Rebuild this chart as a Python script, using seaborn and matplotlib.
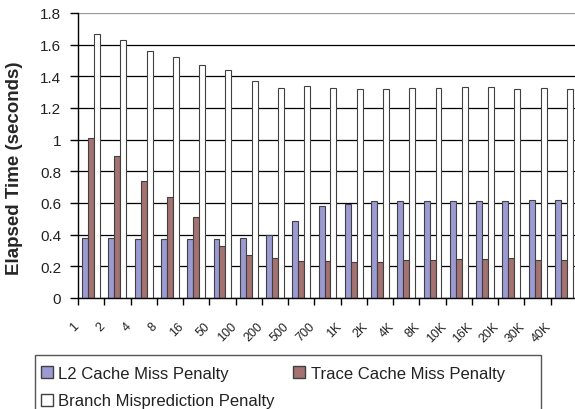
import matplotlib.pyplot as plt
import matplotlib.transforms as mtransforms
from matplotlib.patches import Patch, Rectangle
import seaborn as sns
import numpy as np
import pandas as pd

# data
sizes = ['1', '2', '4', '8', '16', '50', '100', '200', '500', '700',
         '1K', '2K', '4K', '8K', '10K', '16K', '20K', '30K', '40K']
l2_penalty = [0.38, 0.38, 0.375, 0.375, 0.375, 0.375, 0.38, 0.40, 0.485, 0.584,
              0.594, 0.615, 0.615, 0.615, 0.615, 0.615, 0.615, 0.621, 0.621]
trace_penalty = [1.01, 0.90, 0.74, 0.64, 0.513, 0.33, 0.273, 0.25, 0.233, 0.234,
                 0.227, 0.227, 0.24, 0.24, 0.246, 0.244, 0.25, 0.24, 0.24]
branch_penalty = [1.67, 1.63, 1.56, 1.52, 1.474, 1.438, 1.369, 1.324, 1.341, 1.328,
                  1.318, 1.318, 1.328, 1.328, 1.333, 1.333, 1.322, 1.328, 1.322]
series_names = ['L2 Cache Miss Penalty', 'Trace Cache Miss Penalty',
                'Branch Misprediction Penalty']
colors = ['#9C9AD2', '#A57272', '#FFFFFF']

df = pd.DataFrame({
    'size': sizes * 3,
    'series': [n for n in series_names for _ in sizes],
    'time': l2_penalty + trace_penalty + branch_penalty,
})

sns.set_style('white')
plt.rcParams['font.family'] = ['Liberation Sans', 'DejaVu Sans']

fig = plt.figure(figsize=(5.75, 4.1), dpi=100)
ax = fig.add_axes([78 / 575, 111 / 410, 499 / 575, 285 / 410])

sns.barplot(data=df, x='size', y='time', hue='series', order=sizes,
            hue_order=series_names, palette=colors, saturation=1,
            width=0.68, edgecolor='#404040', linewidth=0.8,
            errorbar=None, legend=False, ax=ax)

# y axis
yt = np.arange(0, 1.81, 0.2)
ax.set_ylim(0, 1.8)
ax.set_yticks(yt)
ax.set_yticklabels([f'{v:g}' for v in np.round(yt, 1)], color='#222222')
ax.tick_params(axis='y', left=True, direction='out', length=6, width=1,
               color='black', labelsize=11, pad=6)
ax.set_axisbelow(True)
ax.yaxis.grid(True, color='black', linewidth=0.9)
ax.get_ygridlines()[-1].set_color('#999999')
ax.set_ylabel('Elapsed Time (seconds)', fontsize=13.5, fontweight='bold')
ax.yaxis.set_label_coords(-0.11, 0.46)

# x axis: ticks between categories, labels at the ticks
ax.set_xlim(-0.5, len(sizes) - 0.5)
ax.set_xticks(np.arange(len(sizes)) - 0.5)
ax.set_xticklabels(sizes, rotation=45, ha='right', va='top',
                   fontsize=9, color='#222222')
ax.tick_params(axis='x', bottom=True, direction='out', length=5, width=1,
               color='black', pad=10.5)
offset = mtransforms.ScaledTranslation(0.03, 0, fig.dpi_scale_trans)
for lbl in ax.get_xticklabels():
    lbl.set_transform(lbl.get_transform() + offset)
ax.set_xlabel('')

for side in ['top', 'right']:
    ax.spines[side].set_visible(False)
for side in ['left', 'bottom']:
    ax.spines[side].set_color('black')
    ax.spines[side].set_linewidth(1)

# legend (box runs off the bottom of the image)
handles = [Patch(facecolor=colors[i], edgecolor='#404040', label=series_names[i])
           for i in [0, 2, 1]]
fig.legend(handles=handles, loc='upper left',
           bbox_to_anchor=(41 / 575, 1 - 367 / 410), ncol=2, frameon=False,
           fontsize=12, handlelength=0.7, handleheight=0.7, handletextpad=0.35,
           columnspacing=1.1, labelspacing=0.75, borderaxespad=0, borderpad=0,
           labelcolor='#222222')
frame = Rectangle((35 / 575, -0.1), (541 - 35) / 575, 1 - 356 / 410 + 0.1,
                  transform=fig.transFigure, fill=False, edgecolor='#555555',
                  linewidth=1)
fig.add_artist(frame)

fig.savefig('out.png', dpi=100)
